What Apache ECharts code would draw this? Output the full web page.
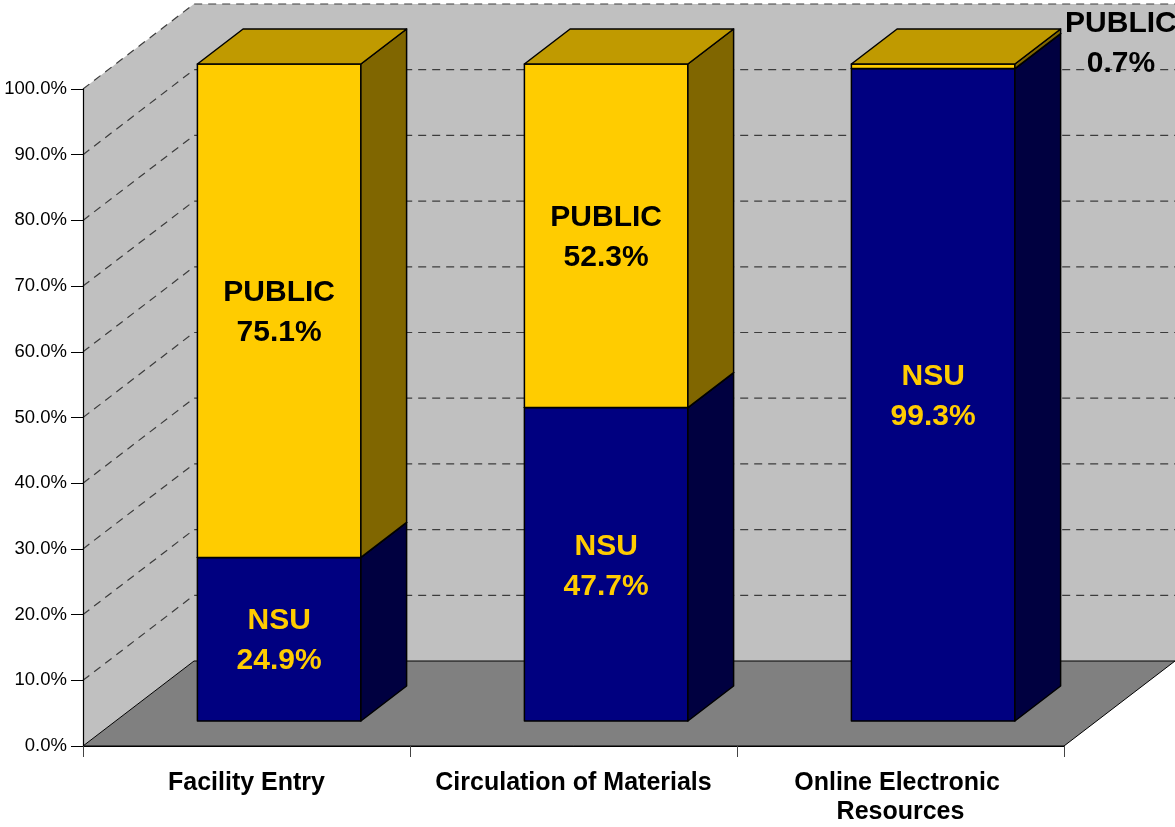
<!DOCTYPE html>
<html>
<head>
<meta charset="utf-8">
<title>NSU vs PUBLIC usage</title>
<script src="https://cdn.jsdelivr.net/npm/echarts@6/dist/echarts.min.js"></script>
<style>
  html, body { margin: 0; padding: 0; background: #fff; }
  #chart { width: 1175px; height: 827px; }
</style>
</head>
<body>
<div id="chart"></div>
<script>
// chart data
const categories = ['Facility Entry', 'Circulation of Materials', 'Online Electronic Resources']
const nsuShare = [24.9, 47.7, 99.3]
const publicShare = [75.1, 52.3, 0.7]
const yTicks = [0, 10, 20, 30, 40, 50, 60, 70, 80, 90, 100]

// 3d look: depth vector of the floor, and where the bars sit inside it
const DEPTH_X = 111
const DEPTH_Y = -85
const BAR_FRONT = 25 / 85
const BAR_BACK = 60 / 85
const FONT = 'Arial, "Liberation Sans", sans-serif'

const colors = {
  wall: '#c0c0c0',
  floor: '#808080',
  grid: '#3c3c3c',
  NSU: { front: '#000080', side: '#000040', top: '#000060', label: '#ffcc00' },
  PUBLIC: { front: '#ffcc00', side: '#806600', top: '#c09a00', label: '#000000' }
}

const chart = echarts.init(document.getElementById('chart'))

function renderWalls(params, api) {
  const cs = params.coordSys
  const x0 = cs.x
  const x1 = cs.x + cs.width
  const yOf = v => api.coord([0, v])[1]
  const yMin = yOf(yTicks[0])
  const yMax = yOf(yTicks[yTicks.length - 1])
  const children = []
  // left wall
  children.push({
    type: 'polygon',
    shape: { points: [[x0, yMin], [x0, yMax], [x0 + DEPTH_X, yMax + DEPTH_Y], [x0 + DEPTH_X, yMin + DEPTH_Y]] },
    style: { fill: colors.wall }
  })
  // back wall
  children.push({
    type: 'polygon',
    shape: { points: [[x0 + DEPTH_X, yMin + DEPTH_Y], [x1 + DEPTH_X, yMin + DEPTH_Y], [x1 + DEPTH_X, yMax + DEPTH_Y], [x0 + DEPTH_X, yMax + DEPTH_Y]] },
    style: { fill: colors.wall }
  })
  // floor
  children.push({
    type: 'polygon',
    shape: { points: [[x0, yMin], [x1, yMin], [x1 + DEPTH_X, yMin + DEPTH_Y], [x0 + DEPTH_X, yMin + DEPTH_Y]] },
    style: { fill: colors.floor, stroke: '#000', lineWidth: 1 }
  })
  // gridlines along the left wall and the back wall
  yTicks.slice(1).forEach(v => {
    const y = yOf(v)
    children.push({
      type: 'polyline',
      shape: { points: [[x0, y], [x0 + DEPTH_X, y + DEPTH_Y], [x1 + DEPTH_X, y + DEPTH_Y]] },
      style: { fill: null, stroke: colors.grid, lineWidth: 1.2, lineDash: [8, 6] }
    })
  })
  return { type: 'group', children: children }
}

function renderBlock(params, api) {
  const name = params.seriesName
  const c = colors[name]
  const i = api.value(0)
  const base = api.coord([i, api.value(1)])
  const top = api.coord([i, api.value(2)])
  const share = api.value(3)
  const bw = api.size([1, 0])[0] * 0.5
  const L = base[0] + DEPTH_X * BAR_FRONT - bw / 2
  const R = L + bw
  const yB = base[1] + DEPTH_Y * BAR_FRONT
  const yT = top[1] + DEPTH_Y * BAR_FRONT
  const dx = DEPTH_X * (BAR_BACK - BAR_FRONT)
  const dy = DEPTH_Y * (BAR_BACK - BAR_FRONT)
  const edge = { stroke: '#000', lineWidth: 1.5, lineJoin: 'round' }

  const children = [
    {
      type: 'polygon',
      shape: { points: [[L, yB], [R, yB], [R, yT], [L, yT]] },
      style: Object.assign({ fill: c.front }, edge)
    },
    {
      type: 'polygon',
      shape: { points: [[R, yB], [R + dx, yB + dy], [R + dx, yT + dy], [R, yT]] },
      style: Object.assign({ fill: c.side }, edge)
    },
    {
      type: 'polygon',
      shape: { points: [[L, yT], [R, yT], [R + dx, yT + dy], [L + dx, yT + dy]] },
      style: Object.assign({ fill: c.top }, edge)
    }
  ]

  const text = name + '\n' + share.toFixed(1) + '%'
  const small = (yB - yT) < 40
  children.push({
    type: 'text',
    x: small ? R + 106 : (L + R) / 2,
    y: small ? yT - 20 : (yB + yT) / 2 + 2,
    style: {
      text: text,
      fill: small ? '#000' : c.label,
      font: 'bold 30px ' + FONT,
      lineHeight: 40,
      align: 'center',
      verticalAlign: 'middle'
    },
    z2: 10
  })
  return { type: 'group', children: children }
}

const nsuData = categories.map((cat, i) => [i, 0, nsuShare[i], nsuShare[i]])
const publicData = categories.map((cat, i) => [i, nsuShare[i], nsuShare[i] + publicShare[i], publicShare[i]])

const option = {
  animation: false,
  backgroundColor: '#fff',
  grid: {
    left: 83,
    right: 111,
    top: 89,
    bottom: 81
  },
  xAxis: {
    type: 'category',
    data: categories,
    axisLine: { lineStyle: { color: '#000', width: 1.2 } },
    axisTick: { show: true, length: 11, lineStyle: { color: '#444' } },
    axisLabel: {
      interval: 0,
      margin: 23,
      color: '#000',
      fontFamily: FONT,
      fontWeight: 'bold',
      fontSize: 25,
      lineHeight: 29,
      width: 300,
      overflow: 'break'
    },
    splitLine: { show: false }
  },
  yAxis: {
    type: 'value',
    min: yTicks[0],
    max: yTicks[yTicks.length - 1],
    interval: yTicks[1] - yTicks[0],
    axisLine: { show: true, lineStyle: { color: '#000', width: 1.2 } },
    axisTick: { show: true, length: 12, lineStyle: { color: '#000' } },
    axisLabel: {
      margin: 16,
      color: '#000',
      fontFamily: FONT,
      fontSize: 18.5,
      formatter: v => v.toFixed(1) + '%'
    },
    splitLine: { show: false }
  },
  series: [
    {
      name: 'walls',
      type: 'custom',
      z: -1,
      silent: true,
      data: [[0]],
      renderItem: renderWalls
    },
    {
      name: 'NSU',
      type: 'custom',
      data: nsuData,
      renderItem: renderBlock
    },
    {
      name: 'PUBLIC',
      type: 'custom',
      data: publicData,
      renderItem: renderBlock
    }
  ]
}

option && chart.setOption(option)
</script>
</body>
</html>
